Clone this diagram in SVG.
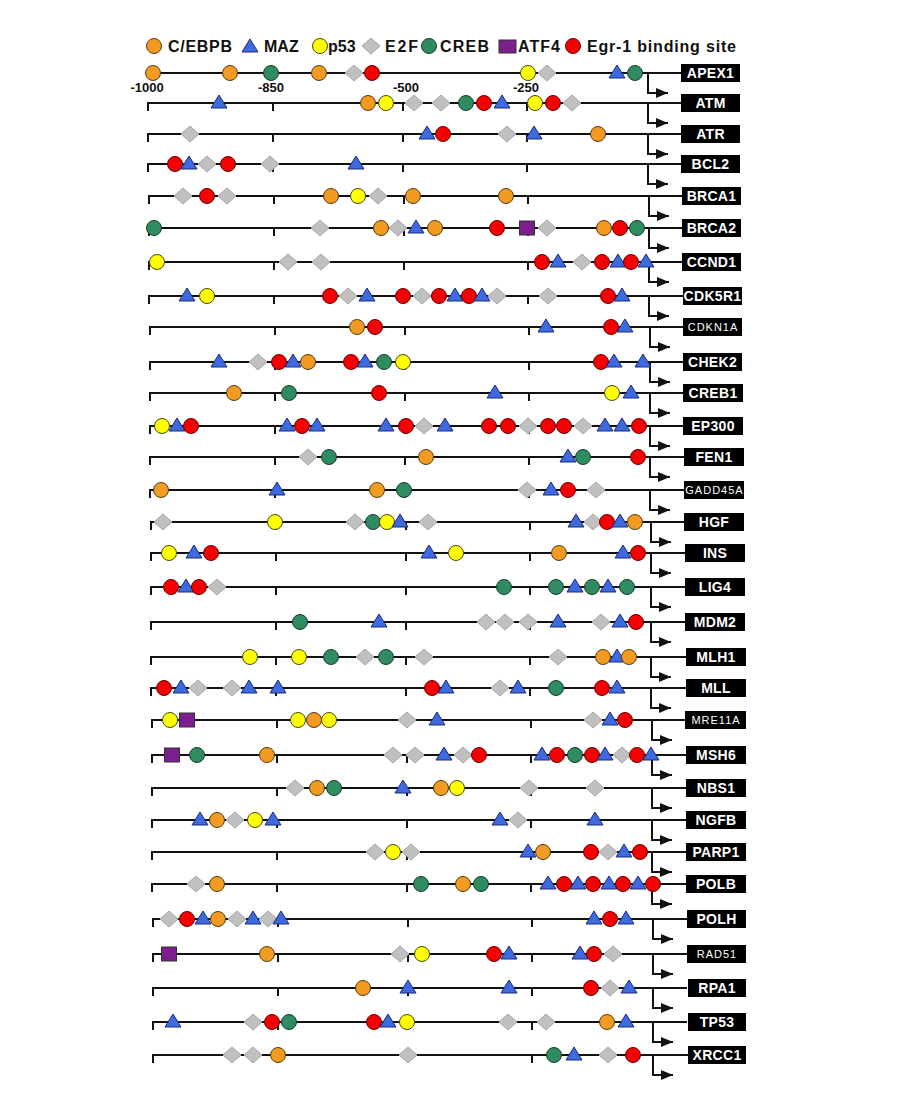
<svg xmlns="http://www.w3.org/2000/svg" width="923" height="1105" viewBox="0 0 923 1105">
<style>
.ln{fill:none;stroke:#111;stroke-width:2}
.pa{fill:none;stroke:#111;stroke-width:2;marker-end:url(#ah)}
.box{fill:#000}
.lb{font-family:"Liberation Sans",Arial,sans-serif;font-weight:bold;font-size:14px;fill:#fff;text-anchor:middle;letter-spacing:0.3px}
.lt{font-weight:normal;font-size:11px;letter-spacing:1px}
.lg{font-family:"Liberation Sans",Arial,sans-serif;font-weight:bold;font-size:16px;fill:#111}
.sc{font-family:"Liberation Sans",Arial,sans-serif;font-weight:bold;font-size:13px;fill:#111;text-anchor:middle}
</style>
<defs>
<marker id="ah" markerUnits="userSpaceOnUse" markerWidth="14" markerHeight="12" refX="12" refY="5" orient="auto"><path d="M0,0L12,5L0,10Z" fill="#111"/></marker>
<circle id="O" r="7.5" fill="#F29A22" stroke="#5a3a10" stroke-width="1"/>
<circle id="Y" r="7.5" fill="#FFFF00" stroke="#4a4a10" stroke-width="1"/>
<circle id="G" r="7.5" fill="#2E8B62" stroke="#173d2a" stroke-width="1"/>
<circle id="R" r="7.5" fill="#F40000" stroke="#660000" stroke-width="1"/>
<path id="B" d="M0,-8L8,5L-8,5Z" fill="#3D6BDF" stroke="#1b2b7a" stroke-width="1"/>
<path id="E" d="M0,-8L9,0L0,8L-9,0Z" fill="#C0C0C0" stroke="#A5A5A5" stroke-width="1"/>
<rect id="A" x="-7.5" y="-7" width="15" height="14" fill="#7B1F8E" stroke="#333" stroke-width="1"/>
</defs>
<rect width="923" height="1105" fill="#fff"/>

<g id="legend">
<use href="#O" x="154" y="46"/><text class="lg" x="168" y="52" textLength="64" lengthAdjust="spacing">C/EBPB</text>
<use href="#B" x="250" y="47"/><text class="lg" x="264" y="52">MAZ</text>
<use href="#Y" x="320" y="46"/><text class="lg" x="328" y="52">p53</text>
<use href="#E" x="371" y="46"/><text class="lg" x="385" y="52" textLength="33" lengthAdjust="spacing">E2F</text>
<use href="#G" x="429" y="46"/><text class="lg" x="440" y="52" textLength="49" lengthAdjust="spacing">CREB</text>
<rect x="499" y="40" width="17" height="13" fill="#7B1F8E" stroke="#333"/><text class="lg" x="518" y="52" textLength="42" lengthAdjust="spacing">ATF4</text>
<use href="#R" x="573" y="46"/><text class="lg" x="587" y="52" textLength="149" lengthAdjust="spacing">Egr-1 binding site</text>
</g>

<g id="scale">
<text class="sc" x="147" y="92">-1000</text>
<text class="sc" x="271" y="92">-850</text>
<text class="sc" x="406" y="92">-500</text>
<text class="sc" x="526" y="92">-250</text>
</g>

<g id="gene-APEX1" transform="translate(0,73)">
<path class="ln" d="M150,0H681"/><path class="pa" d="M648,0V20H668"/>
<use href="#O" x="153"/><use href="#O" x="230"/><use href="#G" x="271"/><use href="#O" x="319"/><use href="#E" x="354"/><use href="#R" x="372"/><use href="#Y" x="528"/><use href="#E" x="547"/><use href="#B" x="617"/><use href="#G" x="635"/>
<rect class="box" x="681" y="-9" width="59" height="18"/><text class="lb" x="710.5" y="5">APEX1</text>
</g>

<g id="gene-ATM" transform="translate(0,103)">
<path class="ln" d="M148,8V0H681M273,0v8M403,0v8M527,0v8"/><path class="pa" d="M648,0V20H668"/>
<use href="#B" x="219"/><use href="#O" x="368"/><use href="#Y" x="386"/><use href="#E" x="414"/><use href="#E" x="441"/><use href="#G" x="466"/><use href="#R" x="484"/><use href="#B" x="502"/><use href="#Y" x="535"/><use href="#R" x="553"/><use href="#E" x="572"/>
<rect class="box" x="681" y="-9" width="59" height="18"/><text class="lb" x="710.5" y="5">ATM</text>
</g>

<g id="gene-ATR" transform="translate(0,134)">
<path class="ln" d="M148,8V0H681M273,0v8M403,0v8M527,0v8"/><path class="pa" d="M648,0V20H668"/>
<use href="#E" x="190"/><use href="#B" x="427"/><use href="#R" x="443"/><use href="#E" x="507"/><use href="#B" x="534"/><use href="#O" x="598"/>
<rect class="box" x="681" y="-9" width="59" height="18"/><text class="lb" x="710.5" y="5">ATR</text>
</g>

<g id="gene-BCL2" transform="translate(0,164)">
<path class="ln" d="M148,8V0H681M273,0v8M403,0v8M527,0v8"/><path class="pa" d="M648,0V20H668"/>
<use href="#R" x="175"/><use href="#B" x="189"/><use href="#E" x="207"/><use href="#R" x="228"/><use href="#E" x="270"/><use href="#B" x="356"/>
<rect class="box" x="681" y="-9" width="59" height="18"/><text class="lb" x="710.5" y="5">BCL2</text>
</g>

<g id="gene-BRCA1" transform="translate(0,196)">
<path class="ln" d="M149,8V0H682M274,0v8M404,0v8M528,0v8"/><path class="pa" d="M649,0V20H669"/>
<use href="#E" x="183"/><use href="#R" x="207"/><use href="#E" x="227"/><use href="#O" x="331"/><use href="#Y" x="358"/><use href="#E" x="378"/><use href="#O" x="413"/><use href="#O" x="506"/>
<rect class="box" x="682" y="-9" width="59" height="18"/><text class="lb" x="711.5" y="5">BRCA1</text>
</g>

<g id="gene-BRCA2" transform="translate(0,228)">
<path class="ln" d="M149,8V0H682M274,0v8M404,0v8M528,0v8"/><path class="pa" d="M649,0V20H669"/>
<use href="#G" x="154"/><use href="#E" x="320"/><use href="#O" x="381"/><use href="#E" x="398"/><use href="#B" x="416"/><use href="#O" x="435"/><use href="#R" x="497"/><use href="#A" x="527"/><use href="#E" x="547"/><use href="#O" x="604"/><use href="#R" x="620"/><use href="#G" x="637"/>
<rect class="box" x="682" y="-9" width="59" height="18"/><text class="lb" x="711.5" y="5">BRCA2</text>
</g>

<g id="gene-CCND1" transform="translate(0,262)">
<path class="ln" d="M149,8V0H682M274,0v8M404,0v8M528,0v8"/><path class="pa" d="M649,0V20H669"/>
<use href="#Y" x="157"/><use href="#E" x="288"/><use href="#E" x="321"/><use href="#R" x="542"/><use href="#B" x="558"/><use href="#E" x="582"/><use href="#R" x="602"/><use href="#B" x="618"/><use href="#R" x="631"/><use href="#B" x="646"/>
<rect class="box" x="682" y="-9" width="59" height="18"/><text class="lb" x="711.5" y="5">CCND1</text>
</g>

<g id="gene-CDK5R1" transform="translate(0,296)">
<path class="ln" d="M149,8V0H683M274,0v8M404,0v8M528,0v8"/><path class="pa" d="M649,0V20H669"/>
<use href="#B" x="187"/><use href="#Y" x="207"/><use href="#R" x="330"/><use href="#E" x="348"/><use href="#B" x="367"/><use href="#R" x="403"/><use href="#E" x="422"/><use href="#R" x="439"/><use href="#B" x="455"/><use href="#R" x="469"/><use href="#B" x="482"/><use href="#E" x="497"/><use href="#E" x="548"/><use href="#R" x="608"/><use href="#B" x="622"/>
<rect class="box" x="683" y="-9" width="59" height="18"/><text class="lb" x="712.5" y="5">CDK5R1</text>
</g>

<g id="gene-CDKN1A" transform="translate(0,327)">
<path class="ln" d="M150,8V0H683M275,0v8M405,0v8M529,0v8"/><path class="pa" d="M650,0V20H670"/>
<use href="#O" x="357"/><use href="#R" x="375"/><use href="#B" x="546"/><use href="#R" x="611"/><use href="#B" x="625"/>
<rect class="box" x="683" y="-9" width="59" height="18"/><text class="lb lt" x="713" y="4">CDKN1A</text>
</g>

<g id="gene-CHEK2" transform="translate(0,362)">
<path class="ln" d="M150,8V0H683M275,0v8M405,0v8M529,0v8"/><path class="pa" d="M650,0V20H670"/>
<use href="#B" x="219"/><use href="#E" x="258"/><use href="#R" x="279"/><use href="#B" x="293"/><use href="#O" x="308"/><use href="#R" x="351"/><use href="#B" x="365"/><use href="#G" x="384"/><use href="#Y" x="403"/><use href="#R" x="601"/><use href="#B" x="614"/><use href="#B" x="643"/>
<rect class="box" x="683" y="-9" width="59" height="18"/><text class="lb" x="712.5" y="5">CHEK2</text>
</g>

<g id="gene-CREB1" transform="translate(0,393)">
<path class="ln" d="M150,8V0H683M275,0v8M405,0v8M529,0v8"/><path class="pa" d="M650,0V20H670"/>
<use href="#O" x="234"/><use href="#G" x="289"/><use href="#R" x="379"/><use href="#B" x="495"/><use href="#Y" x="612"/><use href="#B" x="631"/>
<rect class="box" x="683" y="-9" width="60" height="18"/><text class="lb" x="713" y="5">CREB1</text>
</g>

<g id="gene-EP300" transform="translate(0,426)">
<path class="ln" d="M150,8V0H683M275,0v8M405,0v8M529,0v8"/><path class="pa" d="M650,0V20H670"/>
<use href="#Y" x="162"/><use href="#B" x="177"/><use href="#R" x="191"/><use href="#B" x="287"/><use href="#R" x="302"/><use href="#B" x="317"/><use href="#B" x="386"/><use href="#R" x="406"/><use href="#E" x="424"/><use href="#B" x="445"/><use href="#R" x="489"/><use href="#R" x="508"/><use href="#E" x="528"/><use href="#R" x="548"/><use href="#R" x="564"/><use href="#E" x="583"/><use href="#B" x="605"/><use href="#B" x="622"/><use href="#R" x="639"/>
<rect class="box" x="683" y="-9" width="60" height="18"/><text class="lb" x="713" y="5">EP300</text>
</g>

<g id="gene-FEN1" transform="translate(0,457)">
<path class="ln" d="M150,8V0H684M275,0v8M405,0v8M529,0v8"/><path class="pa" d="M650,0V20H670"/>
<use href="#E" x="308"/><use href="#G" x="329"/><use href="#O" x="426"/><use href="#B" x="568"/><use href="#G" x="583"/><use href="#R" x="638"/>
<rect class="box" x="684" y="-9" width="60" height="18"/><text class="lb" x="714" y="5">FEN1</text>
</g>

<g id="gene-GADD45A" transform="translate(0,490)">
<path class="ln" d="M150,8V0H684M275,0v8M405,0v8M529,0v8"/><path class="pa" d="M650,0V20H670"/>
<use href="#O" x="161"/><use href="#B" x="277"/><use href="#O" x="377"/><use href="#G" x="404"/><use href="#E" x="527"/><use href="#B" x="551"/><use href="#R" x="568"/><use href="#E" x="596"/>
<rect class="box" x="684" y="-9" width="60" height="18"/><text class="lb lt" x="714.5" y="4">GADD45A</text>
</g>

<g id="gene-HGF" transform="translate(0,522)">
<path class="ln" d="M151,8V0H684M276,0v8M406,0v8M530,0v8"/><path class="pa" d="M651,0V20H671"/>
<use href="#E" x="163"/><use href="#Y" x="275"/><use href="#E" x="355"/><use href="#G" x="373"/><use href="#Y" x="387"/><use href="#B" x="400"/><use href="#E" x="428"/><use href="#B" x="576"/><use href="#E" x="593"/><use href="#R" x="607"/><use href="#B" x="620"/><use href="#O" x="635"/>
<rect class="box" x="684" y="-9" width="60" height="18"/><text class="lb" x="714" y="5">HGF</text>
</g>

<g id="gene-INS" transform="translate(0,553)">
<path class="ln" d="M151,8V0H685M276,0v8M406,0v8M530,0v8"/><path class="pa" d="M651,0V20H671"/>
<use href="#Y" x="169"/><use href="#B" x="194"/><use href="#R" x="211"/><use href="#B" x="429"/><use href="#Y" x="456"/><use href="#O" x="559"/><use href="#B" x="623"/><use href="#R" x="638"/>
<rect class="box" x="685" y="-9" width="60" height="18"/><text class="lb" x="715" y="5">INS</text>
</g>

<g id="gene-LIG4" transform="translate(0,587)">
<path class="ln" d="M151,8V0H685M276,0v8M406,0v8M530,0v8"/><path class="pa" d="M651,0V20H671"/>
<use href="#R" x="171"/><use href="#B" x="186"/><use href="#R" x="199"/><use href="#E" x="217"/><use href="#G" x="504"/><use href="#G" x="556"/><use href="#B" x="575"/><use href="#G" x="592"/><use href="#B" x="608"/><use href="#G" x="627"/>
<rect class="box" x="685" y="-9" width="60" height="18"/><text class="lb" x="715" y="5">LIG4</text>
</g>

<g id="gene-MDM2" transform="translate(0,622)">
<path class="ln" d="M151,8V0H685M276,0v8M406,0v8M530,0v8"/><path class="pa" d="M651,0V20H671"/>
<use href="#G" x="300"/><use href="#B" x="379"/><use href="#E" x="486"/><use href="#E" x="505"/><use href="#E" x="528"/><use href="#B" x="558"/><use href="#E" x="601"/><use href="#B" x="620"/><use href="#R" x="636"/>
<rect class="box" x="685" y="-9" width="60" height="18"/><text class="lb" x="715" y="5">MDM2</text>
</g>

<g id="gene-MLH1" transform="translate(0,657)">
<path class="ln" d="M151,8V0H686M276,0v8M406,0v8M530,0v8"/><path class="pa" d="M651,0V20H671"/>
<use href="#Y" x="250"/><use href="#Y" x="299"/><use href="#G" x="331"/><use href="#E" x="365"/><use href="#G" x="386"/><use href="#E" x="424"/><use href="#E" x="558"/><use href="#O" x="603"/><use href="#B" x="617"/><use href="#O" x="629"/>
<rect class="box" x="686" y="-9" width="60" height="18"/><text class="lb" x="716" y="5">MLH1</text>
</g>

<g id="gene-MLL" transform="translate(0,688)">
<path class="ln" d="M151,8V0H686M276,0v8M406,0v8M530,0v8"/><path class="pa" d="M651,0V20H671"/>
<use href="#R" x="164"/><use href="#B" x="181"/><use href="#E" x="198"/><use href="#E" x="232"/><use href="#B" x="249"/><use href="#B" x="278"/><use href="#R" x="432"/><use href="#B" x="446"/><use href="#E" x="500"/><use href="#B" x="518"/><use href="#G" x="556"/><use href="#R" x="602"/><use href="#B" x="617"/>
<rect class="box" x="686" y="-9" width="60" height="18"/><text class="lb" x="716" y="5">MLL</text>
</g>

<g id="gene-MRE11A" transform="translate(0,720)">
<path class="ln" d="M152,8V0H686M277,0v8M407,0v8M531,0v8"/><path class="pa" d="M652,0V20H672"/>
<use href="#Y" x="170"/><use href="#A" x="187"/><use href="#Y" x="298"/><use href="#O" x="314"/><use href="#Y" x="329"/><use href="#E" x="407"/><use href="#B" x="437"/><use href="#E" x="593"/><use href="#B" x="610"/><use href="#R" x="625"/>
<rect class="box" x="685" y="-9" width="61" height="18"/><text class="lb lt" x="716" y="4">MRE11A</text>
</g>

<g id="gene-MSH6" transform="translate(0,755)">
<path class="ln" d="M152,8V0H686M277,0v8M407,0v8M531,0v8"/><path class="pa" d="M652,0V20H672"/>
<use href="#A" x="172"/><use href="#G" x="197"/><use href="#O" x="267"/><use href="#E" x="393"/><use href="#E" x="415"/><use href="#B" x="444"/><use href="#E" x="463"/><use href="#R" x="479"/><use href="#B" x="542"/><use href="#R" x="557"/><use href="#G" x="575"/><use href="#R" x="592"/><use href="#B" x="605"/><use href="#E" x="622"/><use href="#R" x="637"/><use href="#B" x="651"/>
<rect class="box" x="686" y="-9" width="60" height="18"/><text class="lb" x="716" y="5">MSH6</text>
</g>

<g id="gene-NBS1" transform="translate(0,788)">
<path class="ln" d="M152,8V0H686M277,0v8M407,0v8M531,0v8"/><path class="pa" d="M652,0V20H672"/>
<use href="#E" x="295"/><use href="#O" x="317"/><use href="#G" x="334"/><use href="#B" x="403"/><use href="#O" x="441"/><use href="#Y" x="457"/><use href="#E" x="529"/><use href="#E" x="595"/>
<rect class="box" x="686" y="-9" width="60" height="18"/><text class="lb" x="716" y="5">NBS1</text>
</g>

<g id="gene-NGFB" transform="translate(0,820)">
<path class="ln" d="M152,8V0H686M277,0v8M407,0v8M531,0v8"/><path class="pa" d="M652,0V20H672"/>
<use href="#B" x="200"/><use href="#O" x="217"/><use href="#E" x="235"/><use href="#Y" x="255"/><use href="#B" x="273"/><use href="#B" x="500"/><use href="#E" x="518"/><use href="#B" x="595"/>
<rect class="box" x="686" y="-9" width="60" height="18"/><text class="lb" x="716" y="5">NGFB</text>
</g>

<g id="gene-PARP1" transform="translate(0,852)">
<path class="ln" d="M152,8V0H686M277,0v8M407,0v8M531,0v8"/><path class="pa" d="M652,0V20H672"/>
<use href="#E" x="375"/><use href="#Y" x="393"/><use href="#E" x="411"/><use href="#B" x="528"/><use href="#O" x="543"/><use href="#R" x="591"/><use href="#E" x="608"/><use href="#B" x="624"/><use href="#R" x="640"/>
<rect class="box" x="686" y="-9" width="60" height="18"/><text class="lb" x="716" y="5">PARP1</text>
</g>

<g id="gene-POLB" transform="translate(0,884)">
<path class="ln" d="M152,8V0H686M277,0v8M407,0v8M531,0v8"/><path class="pa" d="M652,0V20H672"/>
<use href="#E" x="196"/><use href="#O" x="217"/><use href="#G" x="421"/><use href="#O" x="463"/><use href="#G" x="481"/><use href="#B" x="548"/><use href="#R" x="564"/><use href="#B" x="578"/><use href="#R" x="593"/><use href="#B" x="609"/><use href="#R" x="623"/><use href="#B" x="638"/><use href="#R" x="653"/>
<rect class="box" x="686" y="-9" width="60" height="18"/><text class="lb" x="716" y="5">POLB</text>
</g>

<g id="gene-POLH" transform="translate(0,919)">
<path class="ln" d="M153,8V0H687M278,0v8M408,0v8M532,0v8"/><path class="pa" d="M653,0V20H673"/>
<use href="#E" x="169"/><use href="#R" x="187"/><use href="#B" x="203"/><use href="#O" x="218"/><use href="#E" x="237"/><use href="#B" x="253"/><use href="#E" x="268"/><use href="#B" x="281"/><use href="#B" x="594"/><use href="#R" x="610"/><use href="#B" x="626"/>
<rect class="box" x="687" y="-9" width="59" height="18"/><text class="lb" x="716.5" y="5">POLH</text>
</g>

<g id="gene-RAD51" transform="translate(0,954)">
<path class="ln" d="M153,8V0H687M278,0v8M408,0v8M532,0v8"/><path class="pa" d="M653,0V20H673"/>
<use href="#A" x="169"/><use href="#O" x="267"/><use href="#E" x="400"/><use href="#Y" x="422"/><use href="#R" x="494"/><use href="#B" x="509"/><use href="#B" x="580"/><use href="#R" x="594"/><use href="#E" x="613"/>
<rect class="box" x="687" y="-9" width="59" height="18"/><text class="lb lt" x="717" y="4">RAD51</text>
</g>

<g id="gene-RPA1" transform="translate(0,988)">
<path class="ln" d="M153,8V0H687M278,0v8M408,0v8M532,0v8"/><path class="pa" d="M653,0V20H673"/>
<use href="#O" x="363"/><use href="#B" x="408"/><use href="#B" x="509"/><use href="#R" x="591"/><use href="#E" x="610"/><use href="#B" x="629"/>
<rect class="box" x="688" y="-9" width="58" height="18"/><text class="lb" x="717" y="5">RPA1</text>
</g>

<g id="gene-TP53" transform="translate(0,1022)">
<path class="ln" d="M153,8V0H687M278,0v8M408,0v8M532,0v8"/><path class="pa" d="M653,0V20H673"/>
<use href="#B" x="173"/><use href="#E" x="253"/><use href="#R" x="272"/><use href="#G" x="289"/><use href="#R" x="374"/><use href="#B" x="388"/><use href="#Y" x="407"/><use href="#E" x="508"/><use href="#E" x="546"/><use href="#O" x="607"/><use href="#B" x="626"/>
<rect class="box" x="688" y="-9" width="58" height="18"/><text class="lb" x="717" y="5">TP53</text>
</g>

<g id="gene-XRCC1" transform="translate(0,1055)">
<path class="ln" d="M153,8V0H688M278,0v8M408,0v8M532,0v8"/><path class="pa" d="M653,0V20H673"/>
<use href="#E" x="232"/><use href="#E" x="253"/><use href="#O" x="278"/><use href="#E" x="408"/><use href="#G" x="554"/><use href="#B" x="574"/><use href="#E" x="608"/><use href="#R" x="633"/>
<rect class="box" x="688" y="-9" width="58" height="18"/><text class="lb" x="717" y="5">XRCC1</text>
</g>
</svg>
